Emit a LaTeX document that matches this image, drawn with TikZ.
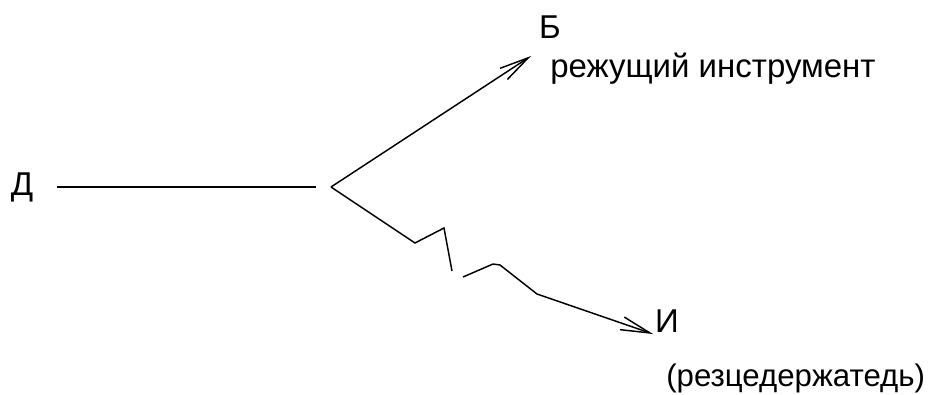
\documentclass[tikz,border=0pt]{standalone}
\usepackage{fontspec}
\setmainfont{Liberation Sans}
\usetikzlibrary{arrows.meta}
\tikzset{
  lbl/.style={inner sep=0pt, font=\fontsize{24.75}{30}\selectfont},
  lblsmall/.style={inner sep=0pt, font=\fontsize{23.4}{28}\selectfont},
  thinline/.style={line width=1.1pt, line join=miter},
  thickline/.style={line width=1.9pt},
  headtip/.style={-{Straight Barb[length=22pt,width=10pt,line width=1.1pt]}}
}
\begin{document}
\begin{tikzpicture}[x=0.75pt,y=-0.75pt]
\useasboundingbox (0,0) rectangle (936,394);
% labels
\node[lbl, anchor=base] (D) at (22,195) {Д};
\node[lbl, anchor=base] (B) at (550,38) {Б};
\node[lbl, anchor=base west] (Btxt) at (550,77) {режущий инструмент};
\node[lbl, anchor=base] (I) at (667,332) {И};
\node[lblsmall, anchor=base west] (Itxt) at (666,386) {(резцедержатедь)};
% coordinates
\coordinate (hs) at (57,187);
\coordinate (he) at (316,187);
\coordinate (J) at (331,187);
\coordinate (Btip) at (531,56);
\coordinate (z1) at (415,243);
\coordinate (z2) at (444,228);
\coordinate (z3) at (452,271);
\coordinate (z4) at (463,277);
\coordinate (z5) at (493,264);
\coordinate (z6) at (500,265);
\coordinate (z7) at (537,294);
\coordinate (Itip) at (653,334);
% connectors
\draw[thickline] (hs) -- (he);
\draw[thinline, headtip] (J) -- (Btip);
\draw[thinline] (J) -- (z1) -- (z2) -- (z3);
\draw[thinline, headtip] (z4) -- (z5) -- (z6) -- (z7) -- (Itip);
\end{tikzpicture}
\end{document}
